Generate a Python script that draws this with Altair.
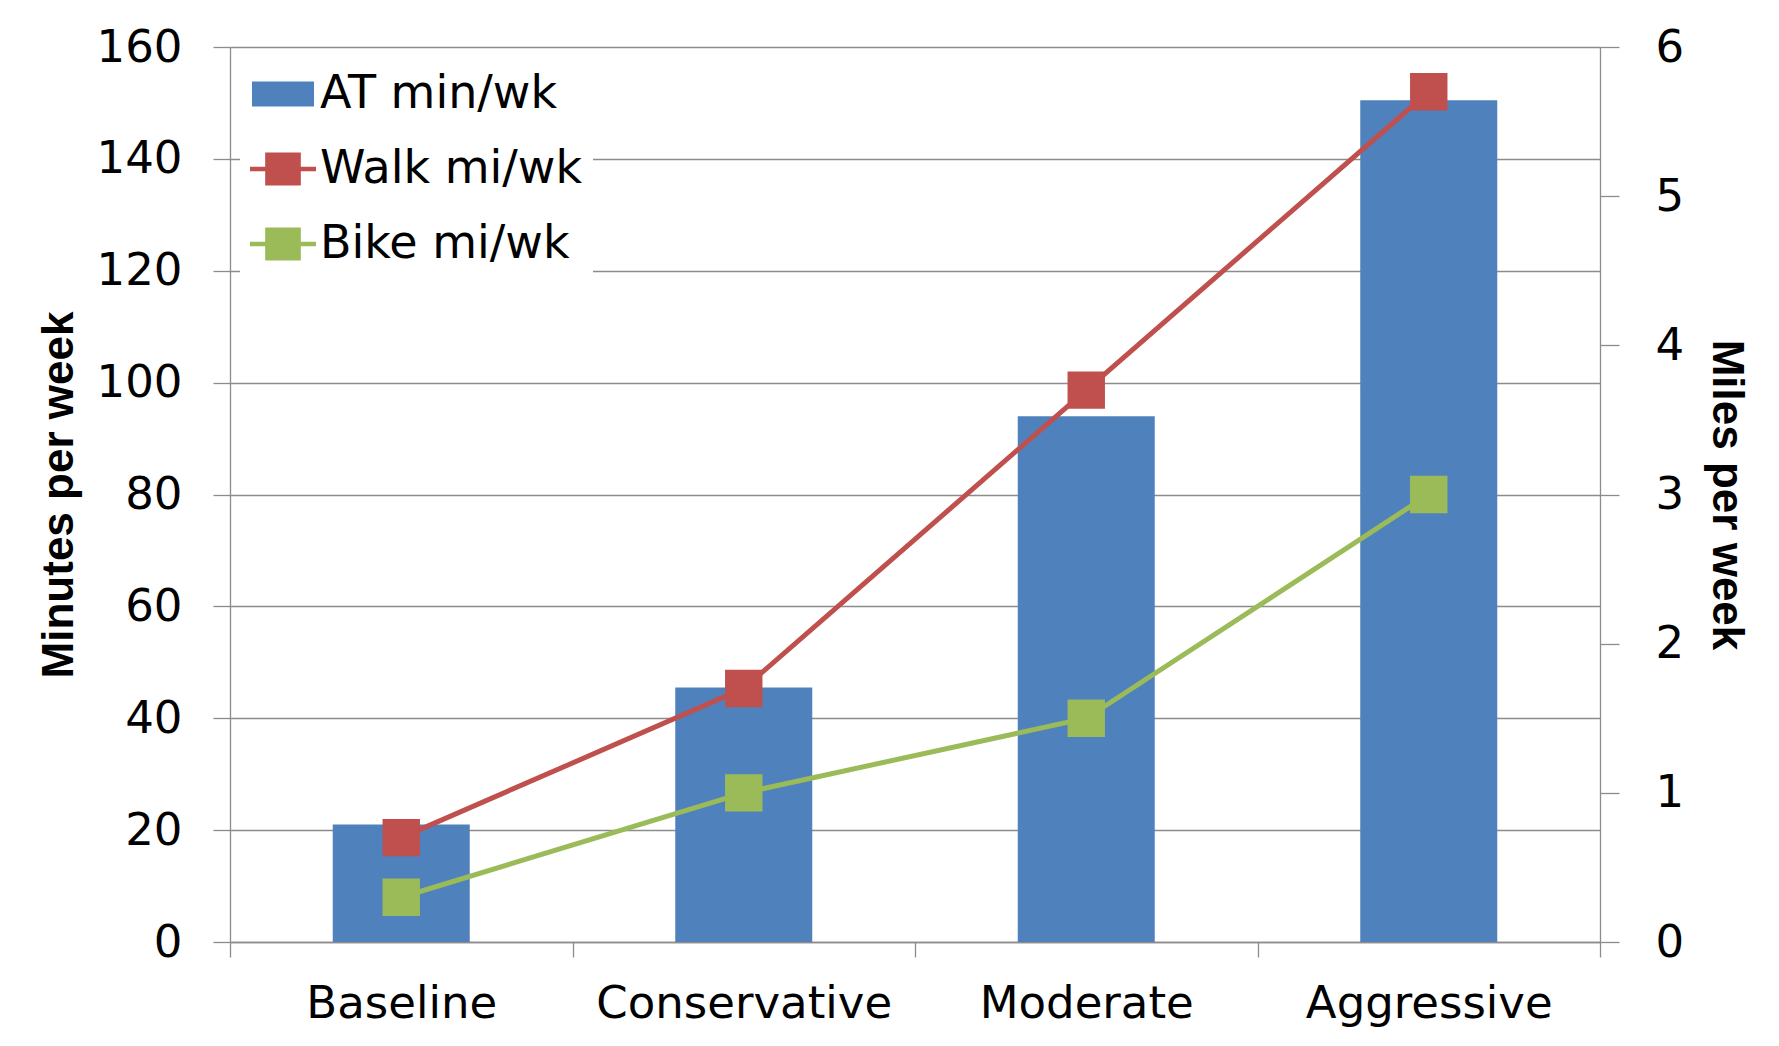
import altair as alt
import pandas as pd

categories = ["Baseline", "Conservative", "Moderate", "Aggressive"]
at_min_wk = [21, 45.5, 94, 150.5]
walk_mi_wk = [0.7, 1.7, 3.7, 5.7]
bike_mi_wk = [0.3, 1.0, 1.5, 3.0]
series_names = ["AT min/wk", "Walk mi/wk", "Bike mi/wk"]
series_colors = ["#4F81BD", "#C0504D", "#9BBB59"]
left_ticks = [0, 20, 40, 60, 80, 100, 120, 140, 160]
right_ticks = [0, 1, 2, 3, 4, 5, 6]

bar_df = pd.DataFrame({"scenario": categories, "value": at_min_wk,
                       "series": [series_names[0]] * len(categories)})
line_df = pd.DataFrame({
    "scenario": categories + categories,
    "value": walk_mi_wk + bike_mi_wk,
    "series": [series_names[1]] * len(categories) + [series_names[2]] * len(categories),
})
legend_df = pd.DataFrame({"series": series_names})

GRAY = "#8C8C8C"
FONT = "DejaVu Sans"
TFONT = "Liberation Sans"

bar_path = "M-0.94,-0.38H0.94V0.38H-0.94Z"
line_path = "M-1,-0.07H-0.54V-0.5H0.54V-0.07H1V0.07H0.54V0.5H-0.54V0.07H-1Z"

color_scale = alt.Scale(domain=series_names, range=series_colors)
shape_scale = alt.Scale(domain=series_names, range=[bar_path, line_path, line_path])

x_axis = alt.Axis(title=None, tickBand="extent", tickSize=15, tickColor=GRAY,
                  domainColor=GRAY, domainWidth=1.3, tickWidth=1.3,
                  labelFont=FONT, labelFontSize=45, labelPadding=24, labelAngle=0,
                  labelLimit=0, grid=False, labelColor="black")
x_enc = alt.X("scenario:N", sort=categories,
              scale=alt.Scale(paddingInner=0, paddingOuter=0), axis=x_axis)

left_axis = alt.Axis(values=left_ticks, format="d", grid=True, gridColor=GRAY, gridWidth=1.3,
                     tickSize=17, tickColor=GRAY, tickWidth=1.3, domainColor=GRAY, domainWidth=1.3,
                     labelPadding=31, labelFont=FONT, labelFontSize=45, labelColor="black",
                     title="Minutes per week", titleFont=TFONT, titleFontWeight="bold",
                     titleFontSize=44, titleColor="black", titleAngle=270, titleX=-171,
                     titleY=447.5, titleAlign="center", titleBaseline="middle", orient="left")
right_axis = alt.Axis(values=right_ticks, format="d", grid=False,
                      tickSize=19, tickColor=GRAY, tickWidth=1.3, domainColor=GRAY, domainWidth=1.3,
                      labelPadding=36, labelFont=FONT, labelFontSize=45, labelColor="black",
                      title="Miles per week", titleFont=TFONT, titleFontWeight="bold",
                      titleFontSize=44, titleColor="black", titleAngle=90, titleX=125,
                      titleY=447.5, titleAlign="center", titleBaseline="middle", orient="right")

bars = alt.Chart(bar_df).mark_bar(width=alt.RelativeBandSize(0.4), color=series_colors[0]).encode(
    x=x_enc,
    y=alt.Y("value:Q", scale=alt.Scale(domain=[0, 160], nice=False), axis=left_axis),
)

y_right = alt.Y("value:Q", scale=alt.Scale(domain=[0, 6], nice=False), axis=right_axis)

lines = alt.Chart(line_df).mark_line(strokeWidth=5).encode(
    x=x_enc,
    y=y_right,
    stroke=alt.Stroke("series:N", scale=color_scale, legend=None),
)

points = alt.Chart(line_df).mark_point(filled=True, shape="square", size=1400, opacity=1,
                                       strokeWidth=0).encode(
    x=x_enc,
    y=y_right,
    fill=alt.Fill("series:N", scale=color_scale, legend=None),
)

legend_props = dict(
    orient="none", legendX=10, legendY=4, fillColor="white", padding=10, title=None,
    labelFont=FONT, labelFontSize=46, labelColor="black", rowPadding=19, labelLimit=0,
    symbolSize=4356, symbolStrokeWidth=0, labelOffset=4, symbolOpacity=1,
)

legend_layer = alt.Chart(legend_df).transform_filter("false").mark_point(
    filled=True, opacity=1
).encode(
    color=alt.Color("series:N", scale=color_scale, legend=alt.Legend(**legend_props)),
    shape=alt.Shape("series:N", scale=shape_scale, legend=alt.Legend(**legend_props)),
)

chart = alt.layer(legend_layer, bars, alt.layer(lines, points)).resolve_scale(
    y="independent"
).properties(
    width=1370, height=895,
    autosize=alt.AutoSizeParams(type="none"),
    padding={"left": 222, "top": 39, "right": 170, "bottom": 95},
).configure_view(stroke=None)

chart.save("out.html", embed_options={"renderer": "svg", "actions": False})
